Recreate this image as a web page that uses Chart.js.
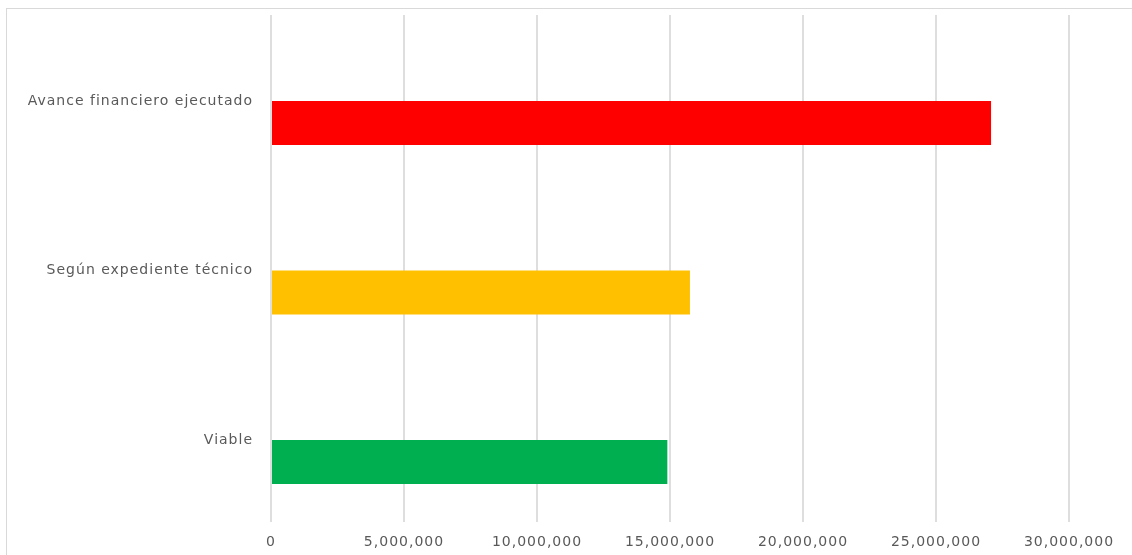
<!DOCTYPE html>
<html>
<head>
<meta charset="utf-8">
<script src="https://cdn.jsdelivr.net/npm/chart.js@4.4.1/dist/chart.umd.min.js"></script>
<style>
    html, body { margin: 0; padding: 0; background: #fff; overflow: hidden; }
    #frame {
        position: absolute; left: 6px; top: 8px;
        width: 1200px; height: 600px;
        border: 1px solid #d9d9d9;
    }
    #wrap { position: absolute; left: 0; top: 0; width: 1132px; height: 555px; }
</style>
</head>
<body>
<div id="frame"></div>
<div id="wrap"><canvas id="costChart"></canvas></div>
<script>
const categories = ['Avance financiero ejecutado', 'Según expediente técnico', 'Viable'];
const costs = [27070000, 15750000, 14900000];
const barColors = ['#FF0000', '#FFC000', '#00B050'];
const xTicks = [0, 5000000, 10000000, 15000000, 20000000, 25000000, 30000000];

// category index on a linear scale so the band can sit like in the original
const points = costs.map((c, i) => ({ x: c, y: i }));

const spacing = {
    id: 'spacing',
    beforeLayout(chart) { chart.ctx.letterSpacing = '1px'; },
    beforeDraw(chart) { chart.ctx.letterSpacing = '1px'; }
};

const data = {
    datasets: [{
        label: 'Costo total',
        data: points,
        backgroundColor: barColors,
        borderWidth: 0,
        barPercentage: 0.26,
        categoryPercentage: 1
    }]
};

const config = {
    type: 'bar',
    data: data,
    plugins: [spacing],
    options: {
        indexAxis: 'y',
        responsive: true,
        maintainAspectRatio: false,
        animation: false,
        layout: {
            padding: { top: 15, right: 63, left: 0, bottom: 0 }
        },
        scales: {
            x: {
                type: 'linear',
                min: 0,
                max: 30000000,
                afterBuildTicks: (axis) => {
                    axis.ticks = xTicks.map(v => ({ value: v }));
                },
                afterFit: (axis) => {
                    axis.height = 33;
                    axis.paddingLeft = 0;
                    axis.paddingRight = 0;
                },
                border: { display: false },
                grid: {
                    color: '#dedede',
                    lineWidth: 2,
                    drawTicks: false
                },
                ticks: {
                    padding: 12,
                    color: '#595959',
                    font: { family: 'DejaVu Sans', size: 14 },
                    callback: (v) => v.toLocaleString('en-US')
                }
            },
            y: {
                type: 'linear',
                reverse: true,
                offset: false,
                min: -0.637,
                max: 2.354,
                afterBuildTicks: (axis) => {
                    axis.ticks = categories.map((c, i) => ({ value: i }));
                },
                afterFit: (axis) => {
                    axis.width = 271;
                    axis.paddingTop = 0;
                    axis.paddingBottom = 0;
                },
                border: { display: false },
                grid: { display: false, drawTicks: false },
                ticks: {
                    padding: 18,
                    labelOffset: -22,
                    color: '#595959',
                    font: { family: 'DejaVu Sans', size: 14 },
                    callback: (v) => categories[v]
                }
            }
        },
        plugins: {
            legend: { display: false },
            tooltip: { enabled: false }
        }
    }
};

const ctx = document.getElementById('costChart').getContext('2d');
new Chart(ctx, config);
</script>
</body>
</html>
